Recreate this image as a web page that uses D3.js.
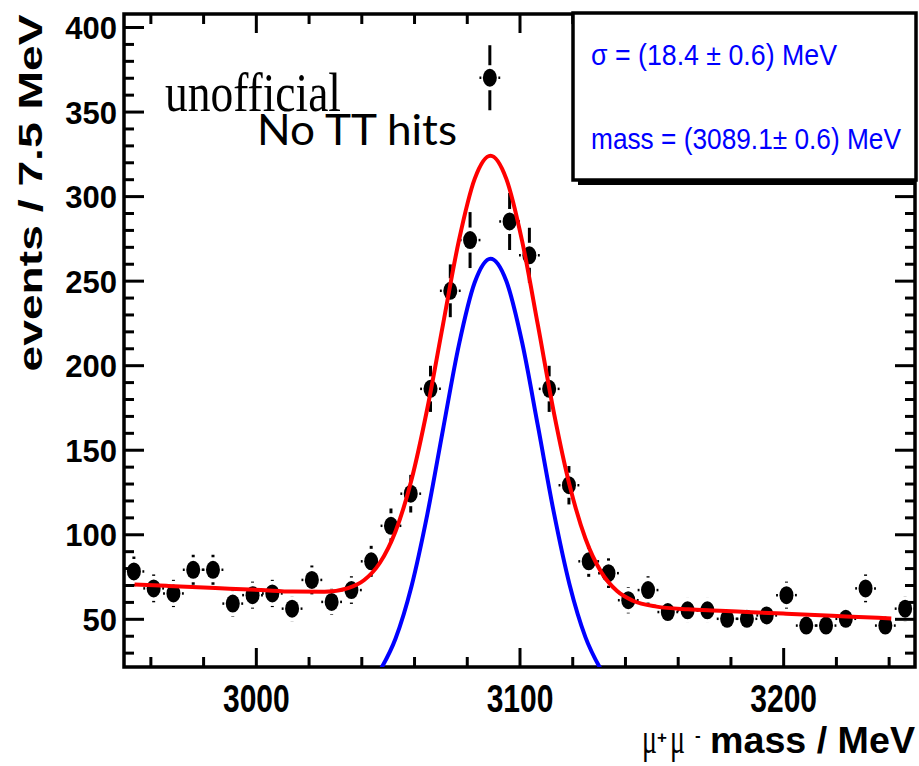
<!DOCTYPE html>
<html>
<head>
<meta charset="utf-8">
<script src="https://cdn.jsdelivr.net/npm/d3@7"></script>
<style>
  html, body { margin: 0; padding: 0; background: #fff; }
  svg { display: block; }
</style>
</head>
<body>
<svg id="chart" width="919" height="766"></svg>
<script>
// Data: mu+mu- invariant mass, 7.5 MeV bins (bin centres)
const massBins = [2953.75, 2961.25, 2968.75, 2976.25, 2983.75, 2991.25, 2998.75, 3006.25, 3013.75, 3021.25,
    3028.75, 3036.25, 3043.75, 3051.25, 3058.75, 3066.25, 3073.75, 3081.25, 3088.75, 3096.25,
    3103.75, 3111.25, 3118.75, 3126.25, 3133.75, 3141.25, 3148.75, 3156.25, 3163.75, 3171.25,
    3178.75, 3186.25, 3193.75, 3201.25, 3208.75, 3216.25, 3223.75, 3231.25, 3238.75, 3246.25];
const events = [78, 68, 65, 79, 79, 59, 64, 65, 56, 73,
    60, 67, 84, 105, 124, 186, 244, 274, 370, 285,
    265, 186, 129, 84, 77, 61, 67, 54, 55, 55,
    50, 50, 52, 64, 46, 46, 50, 68, 46, 56];
const binHalfWidth = 3.75;

// Fit curves
const fitTotalMass = [2954, 2966, 2978, 2990, 3002, 3014, 3026, 3035, 3041, 3047, 3053, 3059, 3065, 3071, 3077,
    3083, 3089, 3095, 3101, 3107, 3113, 3119, 3125, 3131, 3137, 3143, 3152, 3164, 3176, 3188,
    3200, 3212, 3224, 3236, 3241];
const fitTotal = [70.3, 69.5, 68.7, 67.8, 67.0, 66.1, 66.0, 68.2, 72.8, 83.0, 101.8, 132.0, 174.1, 224.2, 273.6,
    310.2, 323.9, 310.2, 273.4, 223.5, 172.3, 129.0, 97.5, 77.6, 66.4, 60.7, 57.2, 55.6, 54.8, 53.9,
    53.1, 52.3, 51.4, 50.6, 50.2];
const fitSignalMass = [3047, 3053, 3059, 3065, 3071, 3077, 3083, 3089, 3095, 3101, 3107, 3113, 3119, 3125, 3131];
const fitSignal = [19.2, 38.4, 69.0, 111.5, 162.1, 211.9, 248.9, 263.0, 249.8, 213.4, 163.9, 113.1, 70.2, 39.2, 19.7];

// Axis ticks
const xTicks = [3000, 3100, 3200];
const yTicks = [50, 100, 150, 200, 250, 300, 350, 400];
const fitText = ["σ = (18.4 ± 0.6) MeV", "mass = (3089.1± 0.6) MeV"];

const plot = { left: 124, right: 915, top: 14, bottom: 667 };
const x = d3.scaleLinear().domain([2950, 3250]).range([plot.left, plot.right]);
const y = d3.scaleLinear().domain([21.5, 407.7]).range([plot.bottom, plot.top]);

const xMinor = d3.range(2960, 3250, 20).filter(v => v % 100 !== 0);
const yMinor = d3.range(30, 408, 10).filter(v => v % 50 !== 0);

const svg = d3.select("#chart");
svg.append("rect").attr("width", 919).attr("height", 766).attr("fill", "#fff");

const sans = "'Liberation Sans', Arial, Helvetica, sans-serif";
const serif = "'Liberation Serif', 'Times New Roman', serif";

const axisStyle = g => {
    g.select(".domain").remove();
    g.selectAll("line").attr("stroke", "#000").attr("stroke-width", 3);
};

// bottom / top
svg.append("g").attr("transform", `translate(0,${plot.bottom})`)
    .call(d3.axisBottom(x).tickValues(xMinor).tickSize(-10).tickFormat(""))
    .call(axisStyle);
svg.append("g").attr("transform", `translate(0,${plot.bottom})`)
    .call(d3.axisBottom(x).tickValues(xTicks).tickSize(-19).tickFormat(d3.format("d")))
    .call(axisStyle)
    .attr("font-size", 30).attr("font-family", sans).attr("font-weight", "bold")
    .call(g => g.selectAll("text")
        .attr("y", 0).attr("dy", null)
        .attr("transform", "translate(0,44.7) scale(1,1.27)"));
svg.append("g").attr("transform", `translate(0,${plot.top})`)
    .call(d3.axisTop(x).tickValues(xMinor).tickSize(-10).tickFormat(""))
    .call(axisStyle);
svg.append("g").attr("transform", `translate(0,${plot.top})`)
    .call(d3.axisTop(x).tickValues(xTicks).tickSize(-19).tickFormat(""))
    .call(axisStyle);

// left / right
svg.append("g").attr("transform", `translate(${plot.left},0)`)
    .call(d3.axisLeft(y).tickValues(yMinor).tickSize(-10).tickFormat(""))
    .call(axisStyle);
svg.append("g").attr("transform", `translate(${plot.left},0)`)
    .call(d3.axisLeft(y).tickValues(yTicks).tickSize(-20).tickPadding(7).tickFormat(d3.format("d")))
    .call(axisStyle)
    .attr("font-size", 31).attr("font-family", sans).attr("font-weight", "bold")
    .call(g => g.selectAll("text").attr("dy", "0.37em"));
svg.append("g").attr("transform", `translate(${plot.right},0)`)
    .call(d3.axisRight(y).tickValues(yMinor).tickSize(-10).tickFormat(""))
    .call(axisStyle);
svg.append("g").attr("transform", `translate(${plot.right},0)`)
    .call(d3.axisRight(y).tickValues(yTicks).tickSize(-20).tickFormat(""))
    .call(axisStyle);

// frame
svg.append("rect")
    .attr("x", plot.left).attr("y", plot.top)
    .attr("width", plot.right - plot.left).attr("height", plot.bottom - plot.top)
    .attr("fill", "none").attr("stroke", "#000").attr("stroke-width", 3.5);

// data points with error bars
const points = massBins.map((m, i) => ({ m: m, n: events[i] }));
const rx = 7, ry = 9;
const pt = svg.append("g").selectAll("g")
    .data(points)
    .join("g")
    .attr("transform", d => `translate(${x(d.m)},${y(d.n)})`);

pt.each(function (d) {
    const g = d3.select(this);
    const err = y(d.n - Math.sqrt(d.n)) - y(d.n);
    const gapV = ry + 3.5;
    if (err > gapV) {
        [-1, 1].forEach(s => g.append("line")
            .attr("x1", 0).attr("x2", 0)
            .attr("y1", s * gapV).attr("y2", s * err)
            .attr("stroke", "#000").attr("stroke-width", 3));
    }
    const ex = x(d.m + binHalfWidth) - x(d.m);
    [-1, 1].forEach(s => g.append("line")
        .attr("y1", 0).attr("y2", 0)
        .attr("x1", s * (rx + 1.5)).attr("x2", s * (ex + 0.5))
        .attr("stroke", "#000").attr("stroke-width", 2.5));
});
pt.append("ellipse").attr("rx", rx).attr("ry", ry).attr("fill", "#000");

// fit curves
svg.append("clipPath").attr("id", "clip")
    .append("rect")
    .attr("x", plot.left).attr("y", plot.top)
    .attr("width", plot.right - plot.left).attr("height", plot.bottom - plot.top);

const line = d3.line()
    .x(d => x(d[0]))
    .y(d => y(d[1]))
    .curve(d3.curveMonotoneX);

svg.append("path")
    .datum(fitSignalMass.map((m, i) => [m, fitSignal[i]]))
    .attr("clip-path", "url(#clip)")
    .attr("d", line)
    .attr("fill", "none").attr("stroke", "#0000ff").attr("stroke-width", 4);

svg.append("path")
    .datum(fitTotalMass.map((m, i) => [m, fitTotal[i]]))
    .attr("clip-path", "url(#clip)")
    .attr("d", line)
    .attr("fill", "none").attr("stroke", "#ff0000").attr("stroke-width", 4);

// fit result box
svg.append("rect")
    .attr("x", 578).attr("y", 18).attr("width", 338).attr("height", 167)
    .attr("fill", "#000");
svg.append("rect")
    .attr("x", 573).attr("y", 13).attr("width", 343).attr("height", 167)
    .attr("fill", "#fff").attr("stroke", "#000").attr("stroke-width", 3.5);

svg.selectAll(".fit-text")
    .data(fitText)
    .join("text")
    .attr("class", "fit-text")
    .attr("x", 591)
    .attr("y", (d, i) => i === 0 ? 65 : 149)
    .attr("textLength", (d, i) => i === 0 ? 246 : 310)
    .attr("lengthAdjust", "spacingAndGlyphs")
    .attr("font-family", sans)
    .attr("font-size", 29)
    .attr("fill", "#0000ff")
    .text(d => d);

// labels
svg.append("text")
    .attr("x", 165).attr("y", 111)
    .attr("font-family", serif).attr("font-size", 54)
    .attr("textLength", 176).attr("lengthAdjust", "spacingAndGlyphs")
    .text("unofficial");

svg.append("text")
    .attr("x", 257).attr("y", 145)
    .attr("font-family", "Lato, 'Open Sans', sans-serif").attr("font-size", 42)
    .attr("textLength", 200).attr("lengthAdjust", "spacingAndGlyphs")
    .text("No TT hits");

// y axis title
svg.append("text")
    .attr("transform", "translate(42,193) rotate(-90)")
    .attr("text-anchor", "middle")
    .attr("font-family", sans).attr("font-weight", "bold").attr("font-size", 33)
    .attr("textLength", 357).attr("lengthAdjust", "spacingAndGlyphs")
    .text("events / 7.5 MeV");

// x axis title: mu+mu- mass / MeV
const xTitle = svg.append("g").attr("font-family", sans);
xTitle.append("text").attr("x", 642).attr("y", 753)
    .attr("font-family", serif).attr("font-size", 44)
    .attr("textLength", 15).attr("lengthAdjust", "spacingAndGlyphs").text("μ");
xTitle.append("text").attr("x", 657).attr("y", 743)
    .attr("font-weight", "bold").attr("font-size", 17).text("+");
xTitle.append("text").attr("x", 670).attr("y", 753)
    .attr("font-family", serif).attr("font-size", 44)
    .attr("textLength", 15).attr("lengthAdjust", "spacingAndGlyphs").text("μ");
xTitle.append("text").attr("x", 695).attr("y", 741)
    .attr("font-weight", "bold").attr("font-size", 17).text("-");
xTitle.append("text").attr("x", 710).attr("y", 753)
    .attr("font-weight", "bold").attr("font-size", 37)
    .attr("textLength", 205).attr("lengthAdjust", "spacingAndGlyphs")
    .text("mass / MeV");
</script>
</body>
</html>
